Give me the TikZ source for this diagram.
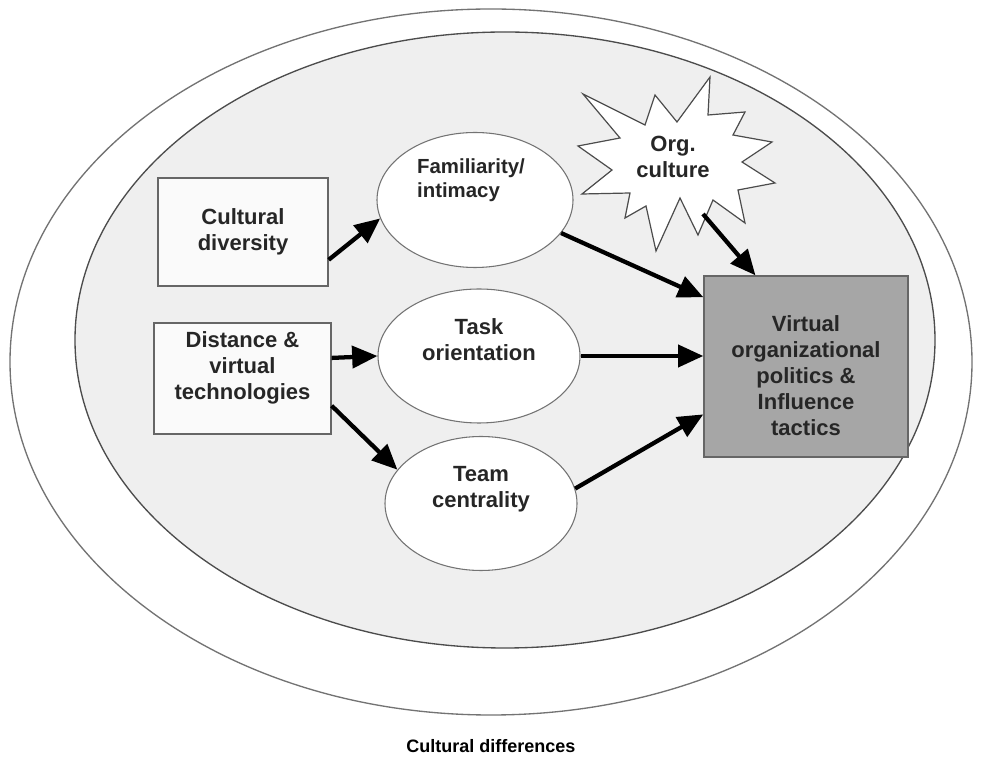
\documentclass[tikz,border=0pt]{standalone}
\usepackage{fontspec}
\setmainfont{Liberation Sans}
\usetikzlibrary{arrows.meta,shapes.geometric}
\definecolor{ringgray}{HTML}{EFEFEF}
\definecolor{targetgray}{HTML}{A6A6A6}
\begin{document}
\begin{tikzpicture}[x=0.75pt, y=-0.75pt,
		box/.style={draw=black!60, fill=white!98!black, line width=1pt, inner sep=0pt},
		oval/.style={ellipse, draw=black!55, fill=white, line width=0.8pt, inner sep=0pt},
		lbl/.style={font=\bfseries\fontsize{16.5}{19.5}\selectfont, align=center, text=black!85},
		arr/.style={-{Triangle[length=19pt, width=16.5pt]}, line width=3.2pt}]
		\useasboundingbox (0,0) rectangle (983,762);
		\draw[draw=black!55, fill=white, line width=1pt] (491,362) ellipse [x radius=481, y radius=353];
		\draw[draw=black!70, fill=ringgray, line width=1pt] (505,340) ellipse [x radius=430, y radius=308];
		\node[box, lbl, minimum width=127.5pt, minimum height=81pt] (cult) at (243,232) {Cultural\\diversity};
		\node[box, minimum width=132.75pt, minimum height=83.25pt, label={[lbl, yshift=8pt]center:Distance \&\\virtual\\technologies}] (dist) at (242.5,378.5) {};
		\node[box, fill=targetgray, minimum width=153pt, minimum height=135.75pt, label={[lbl, yshift=-6.5pt]center:Virtual\\organizational\\politics \&\\Influence\\tactics}] (target) at (806,366.5) {};
		\node[oval, minimum width=147pt, minimum height=101.25pt, label={[lbl, align=left, font=\bfseries\fontsize{15.3}{18}\selectfont, xshift=-3pt, yshift=15pt]center:Familiarity/\\intimacy}] (fam) at (475,200) {};
		\node[oval, minimum width=151.5pt, minimum height=100.5pt, label={[lbl, yshift=12pt]center:Task\\orientation}] (task) at (479,356) {};
		\node[oval, minimum width=144pt, minimum height=100.5pt, label={[lbl, yshift=11pt]center:Team\\centrality}] (team) at (481,503.5) {};
		\draw[draw=black!70, fill=white, line width=0.9pt] (583,94) -- (645,125) -- (655,95) -- (677,122) -- (710,77) -- (708,115) -- (745,112) -- (733,135) -- (772,142) -- (742,162) -- (775,183) -- (738,190) -- (745,223) -- (713,200) -- (698,235) -- (680,198) -- (656,251) -- (646,206) -- (625,218) -- (630,193) -- (582,194) -- (612,170) -- (578,146) -- (620,138) -- cycle;
		\node[lbl, font=\bfseries\fontsize{16.5}{20}\selectfont] (org) at (673,157) {Org.\\culture};
		\coordinate (orgfoot) at (703,214);
		\draw[arr] (cult.-18) -- (fam.191);
		\draw[arr] (dist.13) -- (task.west);
		\draw[arr] (dist.-17) -- (team.158);
		\draw[arr] (fam.-21) -- (target.146);
		\draw[arr] (task.east) -- (task.east -| target.west);
		\draw[arr] (team.9) -- (target.205);
		\draw[arr] (orgfoot) -- (target.119.5);
		\node[font=\bfseries\fontsize{13.5}{16}\selectfont] (title) at (491,746) {Cultural differences};
	\end{tikzpicture}
\end{document}
